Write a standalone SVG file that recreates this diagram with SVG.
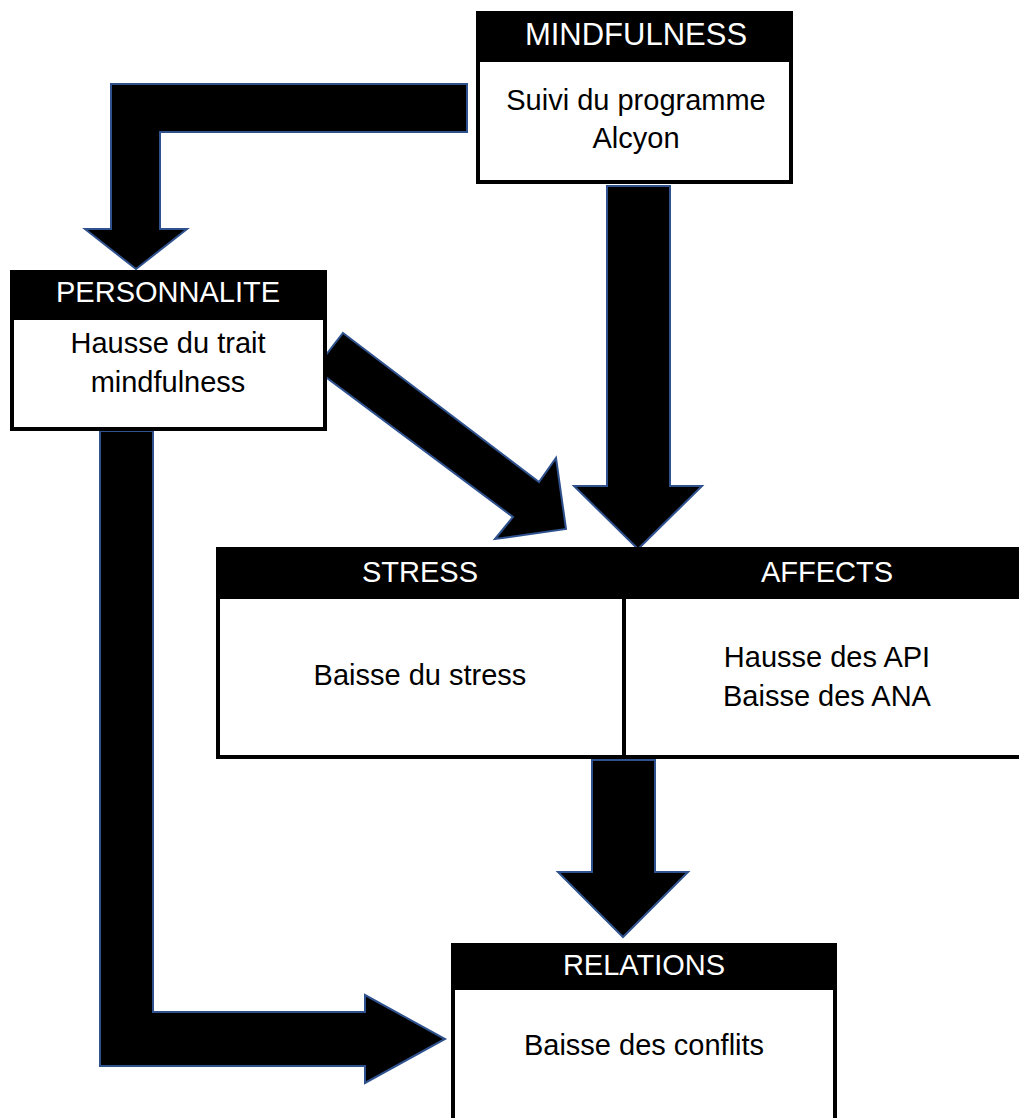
<svg xmlns="http://www.w3.org/2000/svg" width="1019" height="1118" viewBox="0 0 1019 1118">
<style>
.body{fill:#fff;stroke:#000;stroke-width:4}
.head{fill:#000}
.ht{font-family:"Liberation Sans",Arial,sans-serif;font-size:29px;fill:#fff;text-anchor:middle}
.bt{font-family:"Liberation Sans",Arial,sans-serif;font-size:29px;fill:#000;text-anchor:middle}
.arrow{fill:#000;stroke:#2F528F;stroke-width:2;stroke-linejoin:miter}
</style>
<rect width="1019" height="1118" fill="#fff"/>
<g id="connectors">
<polygon class="arrow" points="467,84 111,84 111,229 85,229 136,269 187,229 160,229 160,132 467,132"/>
<polygon class="arrow" points="607,186 670,186 670,486 702,486 638,549 574,486 607,486"/>
<polygon class="arrow" points="343,333 539,482 556,458 566,529 495,539 513,517 315,369"/>
<polygon class="arrow" points="100,431 153,431 153,1012 365,1012 365,995 445,1039 365,1083 365,1066 100,1066"/>
<polygon class="arrow" points="592,760 655,760 655,872 688,872 623,937 558,872 592,872"/>
</g>
<g id="mindfulness">
<rect class="body" x="478" y="13" width="313" height="169"/>
<rect class="head" x="476" y="11" width="317" height="51"/>
<text class="ht" x="636" y="45" style="font-size:31px">MINDFULNESS</text>
<text class="bt" x="636" y="110">Suivi du programme</text>
<text class="bt" x="636" y="148">Alcyon</text>
</g>
<g id="personnalite">
<rect class="body" x="12" y="272" width="313" height="157"/>
<rect class="head" x="10" y="270" width="317" height="50"/>
<text class="ht" x="168" y="302">PERSONNALITE</text>
<text class="bt" x="168" y="353">Hausse du trait</text>
<text class="bt" x="168" y="392">mindfulness</text>
</g>
<g id="stress-affects">
<rect class="body" x="218" y="549" width="830" height="208"/>
<rect class="head" x="216" y="547" width="834" height="52"/>
<line x1="624" y1="599" x2="624" y2="757" stroke="#000" stroke-width="4"/>
<text class="ht" x="420" y="582">STRESS</text>
<text class="ht" x="827" y="582">AFFECTS</text>
<text class="bt" x="420" y="685">Baisse du stress</text>
<text class="bt" x="827" y="667">Hausse des API</text>
<text class="bt" x="827" y="706">Baisse des ANA</text>
</g>
<g id="relations">
<rect class="body" x="453" y="945" width="382" height="200"/>
<rect class="head" x="451" y="943" width="386" height="47"/>
<text class="ht" x="644" y="975">RELATIONS</text>
<text class="bt" x="644" y="1055">Baisse des conflits</text>
</g>
</svg>
